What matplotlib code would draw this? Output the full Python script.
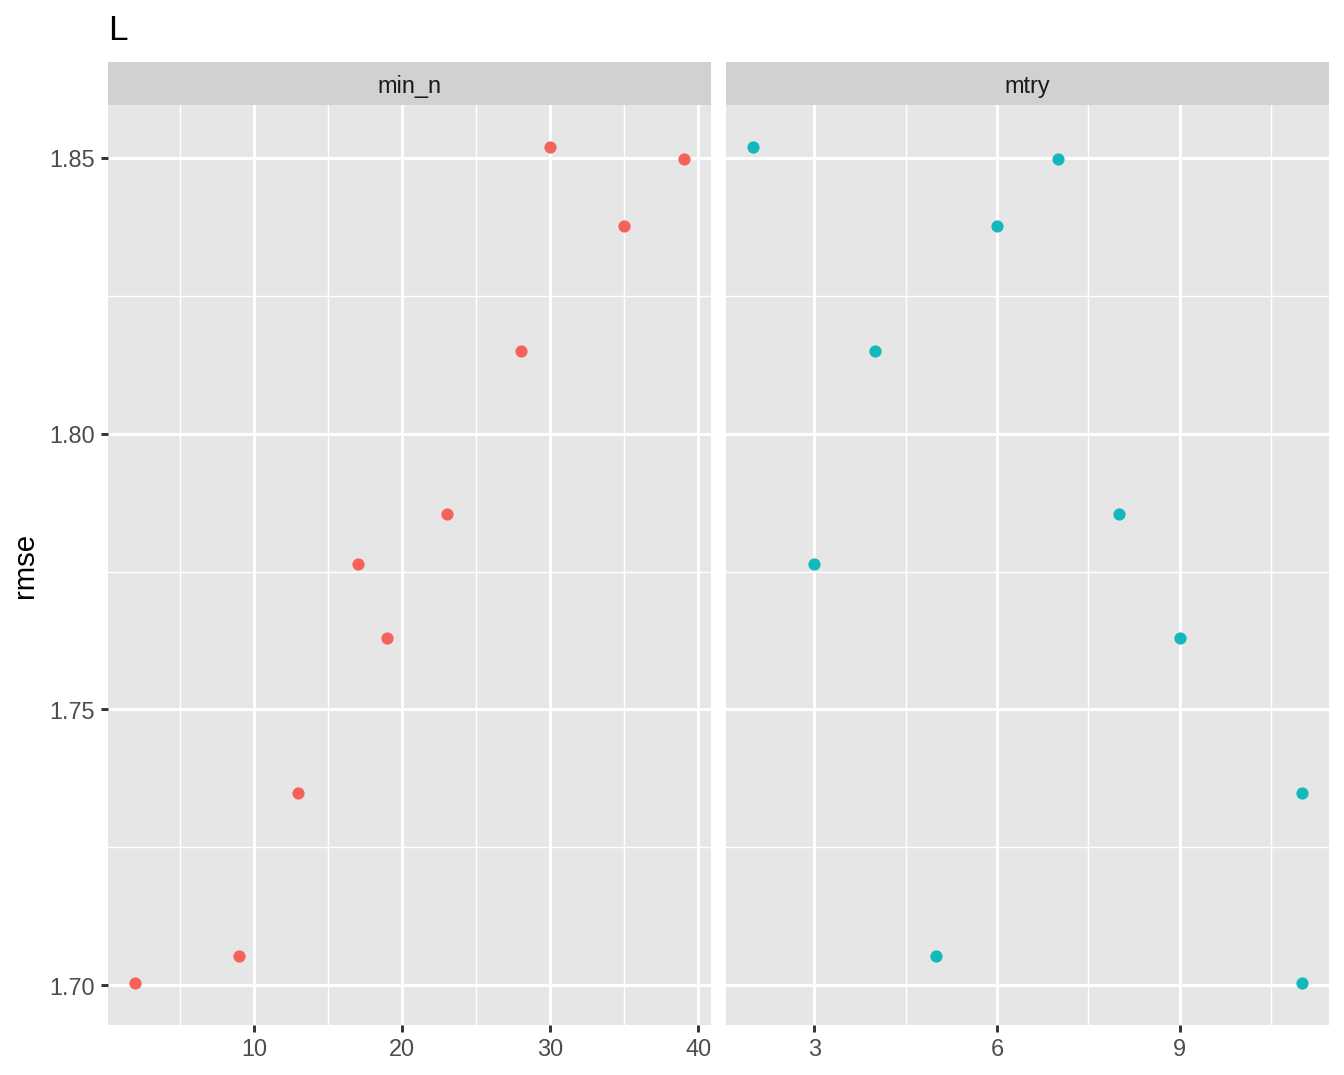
import matplotlib
matplotlib.use("Agg")
import matplotlib.pyplot as plt

plt.rcParams['font.family'] = ['Liberation Sans', 'DejaVu Sans']

rmse = [1.7004, 1.7053, 1.7349, 1.7763, 1.7630, 1.7855, 1.8150, 1.8520, 1.8377, 1.8497]
min_n = [2, 9, 13, 17, 19, 23, 28, 30, 35, 39]
mtry = [11, 5, 11, 3, 9, 8, 4, 2, 6, 7]

panels = [
    ("min_n", min_n, "#F5615B", [10, 20, 30, 40], [5, 15, 25, 35]),
    ("mtry", mtry, "#13B8BD", [3, 6, 9], [4.5, 7.5, 10.5]),
]
y_major = [1.70, 1.75, 1.80, 1.85]
y_minor = [1.725, 1.775, 1.825]

W, H = 1344, 1075
fig = plt.figure(figsize=(7, 5.6), dpi=192)

panel_bg = "#E6E6E6"
strip_bg = "#D1D1D1"
lefts = [108, 726]
pw = 603
top, bottom = 105, 1025
strip_h = 43

ylo, yhi = min(rmse), max(rmse)
ypad = (yhi - ylo) * 0.05

for i, (name, xs, col, xmaj, xmin) in enumerate(panels):
    l = lefts[i]
    ax = fig.add_axes([l / W, 1 - bottom / H, pw / W, (bottom - top) / H])
    ax.set_facecolor(panel_bg)
    for s in ax.spines.values():
        s.set_visible(False)
    xpad = (max(xs) - min(xs)) * 0.05
    ax.set_xlim(min(xs) - xpad, max(xs) + xpad)
    ax.set_ylim(ylo - ypad, yhi + ypad)
    for v in xmin:
        ax.axvline(v, color="white", lw=0.55, zorder=0)
    for v in y_minor:
        ax.axhline(v, color="white", lw=0.55, zorder=0)
    for v in xmaj:
        ax.axvline(v, color="white", lw=1.1, zorder=0)
    for v in y_major:
        ax.axhline(v, color="white", lw=1.1, zorder=0)
    ax.scatter(xs, rmse, s=21, color=col, zorder=3, linewidths=0)
    ax.set_xticks(xmaj)
    ax.set_xticklabels([str(v) for v in xmaj])
    ax.tick_params(axis="both", colors="#333333", labelsize=8.8, length=2.75,
                   width=1.1, pad=2.2, labelcolor="#4D4D4D")
    if i == 0:
        ax.set_yticks(y_major)
        ax.set_yticklabels(["%.2f" % v for v in y_major])
        ax.set_ylabel("rmse", fontsize=11, labelpad=4)
    else:
        ax.set_yticks([])
    # facet strip
    sax = fig.add_axes([l / W, 1 - top / H, pw / W, strip_h / H])
    sax.set_facecolor(strip_bg)
    sax.set_xticks([])
    sax.set_yticks([])
    for s in sax.spines.values():
        s.set_visible(False)
    sax.text(0.5, 0.44, name, ha="center", va="center", fontsize=8.8,
             color="#1A1A1A", transform=sax.transAxes)

fig.text(108 / W, 1 - 30 / H, "L", fontsize=13.2, ha="left", va="center")

fig.savefig("out.png", dpi=192)
